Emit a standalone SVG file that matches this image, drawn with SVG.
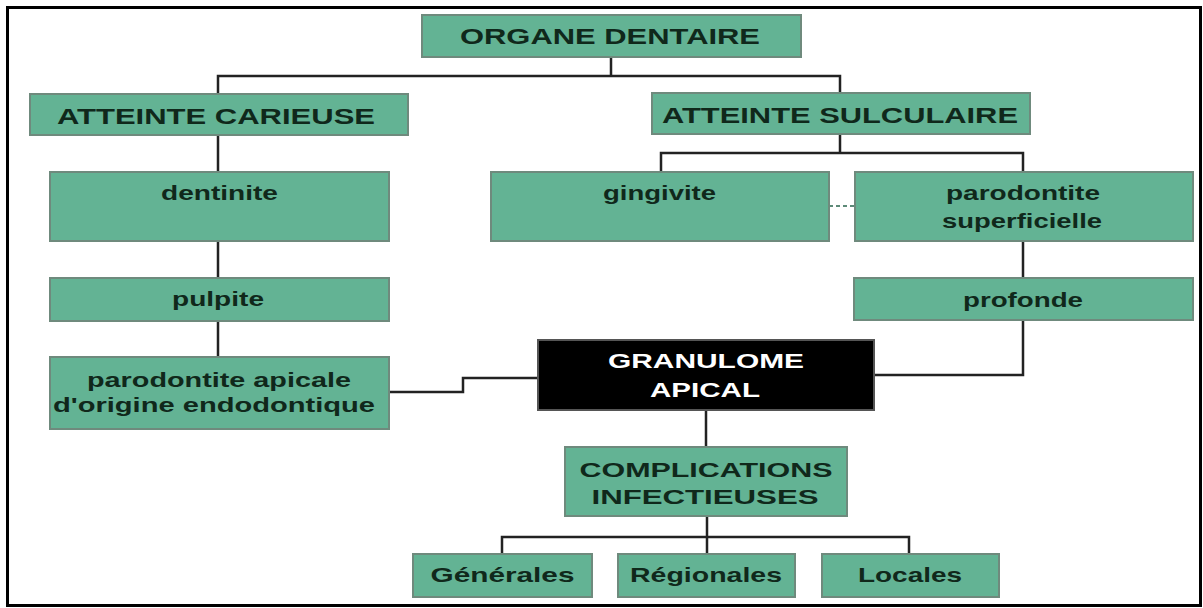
<svg xmlns="http://www.w3.org/2000/svg" width="1203" height="608" viewBox="0 0 1203 608">
<style>
.box{fill:#63b394;stroke:#6f8a7d;stroke-width:2}
.dark{fill:#000;stroke:#555;stroke-width:2}
.t{font-family:"Liberation Sans",Arial,sans-serif;font-weight:bold;fill:#10281b;text-anchor:middle}
.w{fill:#fff}
.c{fill:none;stroke:#222;stroke-width:2.5}
.d{fill:none;stroke:#5d8a78;stroke-width:2;stroke-dasharray:4 3}
</style>
<rect width="1203" height="608" fill="#fff"/>
<rect x="7.5" y="7.5" width="1193" height="598" fill="none" stroke="#000" stroke-width="3"/>
<g id="connectors">
<path class="c" d="M611 57V76M218 94V76H840V93"/>
<path class="c" d="M218 135V172M218 241V278M218 321V357"/>
<path class="c" d="M840 134V153M661 172V153H1023V172"/>
<path class="d" d="M829 206H855"/>
<path class="c" d="M1023 241V278M1023 320V375H874"/>
<path class="c" d="M389 392H463V378H538"/>
<path class="c" d="M706 410V447M707 516V537M502 554V537H909V554M707 537V554"/>
</g>
<g id="organe"><rect class="box" x="422" y="15" width="379" height="42"/><text class="t" x="610" y="44" font-size="22" textLength="300" lengthAdjust="spacingAndGlyphs">ORGANE DENTAIRE</text></g>
<g id="carieuse"><rect class="box" x="30" y="94" width="378" height="41"/><text class="t" x="216" y="124" font-size="22" textLength="318" lengthAdjust="spacingAndGlyphs">ATTEINTE CARIEUSE</text></g>
<g id="sulculaire"><rect class="box" x="652" y="93" width="378" height="41"/><text class="t" x="840" y="123" font-size="22" textLength="356" lengthAdjust="spacingAndGlyphs">ATTEINTE SULCULAIRE</text></g>
<g id="dentinite"><rect class="box" x="50" y="172" width="339" height="69"/><text class="t" x="219.5" y="200" font-size="20" textLength="117" lengthAdjust="spacingAndGlyphs">dentinite</text></g>
<g id="gingivite"><rect class="box" x="491" y="172" width="338" height="69"/><text class="t" x="659.5" y="200" font-size="20" textLength="113" lengthAdjust="spacingAndGlyphs">gingivite</text></g>
<g id="parodontite-sup"><rect class="box" x="855" y="172" width="338" height="69"/><text class="t" x="1023" y="200" font-size="20" textLength="154" lengthAdjust="spacingAndGlyphs">parodontite</text><text class="t" x="1022" y="228" font-size="20" textLength="160" lengthAdjust="spacingAndGlyphs">superficielle</text></g>
<g id="pulpite"><rect class="box" x="50" y="278" width="339" height="43"/><text class="t" x="218" y="306" font-size="20" textLength="92" lengthAdjust="spacingAndGlyphs">pulpite</text></g>
<g id="profonde"><rect class="box" x="854" y="278" width="339" height="42"/><text class="t" x="1023" y="307" font-size="20" textLength="120" lengthAdjust="spacingAndGlyphs">profonde</text></g>
<g id="parodontite-apicale"><rect class="box" x="50" y="357" width="339" height="72"/><text class="t" x="219" y="387" font-size="20" textLength="264" lengthAdjust="spacingAndGlyphs">parodontite apicale</text><text class="t" x="214" y="412" font-size="20" textLength="322" lengthAdjust="spacingAndGlyphs">d'origine endodontique</text></g>
<g id="granulome"><rect class="dark" x="538" y="340" width="336" height="70"/><text class="t w" x="706" y="368" font-size="21" textLength="196" lengthAdjust="spacingAndGlyphs">GRANULOME</text><text class="t w" x="705" y="397" font-size="21" textLength="110" lengthAdjust="spacingAndGlyphs">APICAL</text></g>
<g id="complications"><rect class="box" x="565" y="447" width="282" height="69"/><text class="t" x="706" y="477" font-size="21" textLength="253" lengthAdjust="spacingAndGlyphs">COMPLICATIONS</text><text class="t" x="705" y="504" font-size="21" textLength="227" lengthAdjust="spacingAndGlyphs">INFECTIEUSES</text></g>
<g id="generales"><rect class="box" x="413" y="554" width="179" height="43"/><text class="t" x="502.5" y="582" font-size="21" textLength="144" lengthAdjust="spacingAndGlyphs">Générales</text></g>
<g id="regionales"><rect class="box" x="618" y="554" width="177" height="43"/><text class="t" x="706" y="582" font-size="21" textLength="152" lengthAdjust="spacingAndGlyphs">Régionales</text></g>
<g id="locales"><rect class="box" x="822" y="554" width="177" height="43"/><text class="t" x="910" y="582" font-size="21" textLength="104" lengthAdjust="spacingAndGlyphs">Locales</text></g>
</svg>
